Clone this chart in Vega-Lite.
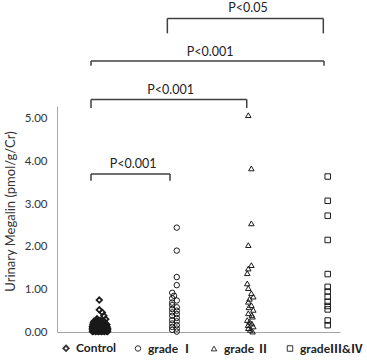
{
  "$schema": "https://vega.github.io/schema/vega-lite/v6.json",
  "autosize": "none",
  "padding": {"left": 57, "top": 106, "right": 27, "bottom": 28},
  "width": 283,
  "height": 226,
  "background": "white",
  "config": {"view": {"stroke": null}, "font": "Lato"},
  "datasets": {
    "pts": [
      {"g": "Control", "x": 0.90, "y": 0.01}, {"g": "Control", "x": 0.94, "y": 0.01}, {"g": "Control", "x": 0.98, "y": 0.01}, {"g": "Control", "x": 1.02, "y": 0.01}, {"g": "Control", "x": 1.06, "y": 0.01}, {"g": "Control", "x": 1.10, "y": 0.01},
      {"g": "Control", "x": 0.92, "y": 0.03}, {"g": "Control", "x": 0.96, "y": 0.03}, {"g": "Control", "x": 1.00, "y": 0.03}, {"g": "Control", "x": 1.04, "y": 0.03}, {"g": "Control", "x": 1.08, "y": 0.03},
      {"g": "Control", "x": 0.90, "y": 0.05}, {"g": "Control", "x": 0.94, "y": 0.05}, {"g": "Control", "x": 0.98, "y": 0.05}, {"g": "Control", "x": 1.02, "y": 0.05}, {"g": "Control", "x": 1.06, "y": 0.05}, {"g": "Control", "x": 1.10, "y": 0.05},
      {"g": "Control", "x": 0.92, "y": 0.07}, {"g": "Control", "x": 0.96, "y": 0.07}, {"g": "Control", "x": 1.00, "y": 0.07}, {"g": "Control", "x": 1.04, "y": 0.07}, {"g": "Control", "x": 1.08, "y": 0.07},
      {"g": "Control", "x": 0.90, "y": 0.09}, {"g": "Control", "x": 0.95, "y": 0.09}, {"g": "Control", "x": 1.00, "y": 0.09}, {"g": "Control", "x": 1.05, "y": 0.09}, {"g": "Control", "x": 1.10, "y": 0.09},
      {"g": "Control", "x": 0.92, "y": 0.11}, {"g": "Control", "x": 0.97, "y": 0.11}, {"g": "Control", "x": 1.02, "y": 0.11}, {"g": "Control", "x": 1.07, "y": 0.11},
      {"g": "Control", "x": 0.90, "y": 0.13}, {"g": "Control", "x": 0.94, "y": 0.13}, {"g": "Control", "x": 0.99, "y": 0.13}, {"g": "Control", "x": 1.04, "y": 0.13}, {"g": "Control", "x": 1.09, "y": 0.13},
      {"g": "Control", "x": 0.92, "y": 0.15}, {"g": "Control", "x": 0.97, "y": 0.15}, {"g": "Control", "x": 1.02, "y": 0.15}, {"g": "Control", "x": 1.07, "y": 0.15},
      {"g": "Control", "x": 0.91, "y": 0.17}, {"g": "Control", "x": 0.95, "y": 0.17}, {"g": "Control", "x": 1.00, "y": 0.17}, {"g": "Control", "x": 1.05, "y": 0.17}, {"g": "Control", "x": 1.09, "y": 0.17},
      {"g": "Control", "x": 0.93, "y": 0.19}, {"g": "Control", "x": 0.98, "y": 0.19}, {"g": "Control", "x": 1.03, "y": 0.19}, {"g": "Control", "x": 1.08, "y": 0.19},
      {"g": "Control", "x": 0.91, "y": 0.21}, {"g": "Control", "x": 0.96, "y": 0.21}, {"g": "Control", "x": 1.01, "y": 0.21}, {"g": "Control", "x": 1.06, "y": 0.21},
      {"g": "Control", "x": 0.93, "y": 0.23}, {"g": "Control", "x": 0.98, "y": 0.23}, {"g": "Control", "x": 1.03, "y": 0.23},
      {"g": "Control", "x": 0.92, "y": 0.25}, {"g": "Control", "x": 0.97, "y": 0.25}, {"g": "Control", "x": 1.02, "y": 0.25},
      {"g": "Control", "x": 0.95, "y": 0.27}, {"g": "Control", "x": 1.00, "y": 0.27},
      {"g": "Control", "x": 0.91, "y": 0.02}, {"g": "Control", "x": 0.96, "y": 0.02}, {"g": "Control", "x": 1.00, "y": 0.02}, {"g": "Control", "x": 1.04, "y": 0.02}, {"g": "Control", "x": 1.09, "y": 0.02},
      {"g": "Control", "x": 0.93, "y": 0.06}, {"g": "Control", "x": 0.97, "y": 0.06}, {"g": "Control", "x": 1.01, "y": 0.06}, {"g": "Control", "x": 1.05, "y": 0.06}, {"g": "Control", "x": 1.09, "y": 0.06},
      {"g": "Control", "x": 0.91, "y": 0.10}, {"g": "Control", "x": 0.96, "y": 0.10}, {"g": "Control", "x": 1.00, "y": 0.10}, {"g": "Control", "x": 1.04, "y": 0.10}, {"g": "Control", "x": 1.08, "y": 0.10},
      {"g": "Control", "x": 0.93, "y": 0.14}, {"g": "Control", "x": 0.97, "y": 0.14}, {"g": "Control", "x": 1.01, "y": 0.14}, {"g": "Control", "x": 1.06, "y": 0.14},
      {"g": "Control", "x": 0.91, "y": 0.18}, {"g": "Control", "x": 0.96, "y": 0.18}, {"g": "Control", "x": 1.01, "y": 0.18}, {"g": "Control", "x": 1.06, "y": 0.18},
      {"g": "Control", "x": 0.94, "y": 0.22}, {"g": "Control", "x": 0.99, "y": 0.22}, {"g": "Control", "x": 1.04, "y": 0.22},
      {"g": "Control", "x": 0.96, "y": 0.26}, {"g": "Control", "x": 1.01, "y": 0.26}, {"g": "Control", "x": 1.05, "y": 0.26},
      {"g": "Control", "x": 0.99, "y": 0.75}, {"g": "Control", "x": 0.99, "y": 0.52}, {"g": "Control", "x": 1.03, "y": 0.46}, {"g": "Control", "x": 1.05, "y": 0.38}, {"g": "Control", "x": 1.075, "y": 0.30}, {"g": "Control", "x": 0.96, "y": 0.31},
      {"g": "grade Ⅰ", "x": 2.011, "y": 2.45}, {"g": "grade Ⅰ", "x": 2.011, "y": 1.91}, {"g": "grade Ⅰ", "x": 2.011, "y": 1.29}, {"g": "grade Ⅰ", "x": 2.011, "y": 1.10},
      {"g": "grade Ⅰ", "x": 1.951, "y": 0.92}, {"g": "grade Ⅰ", "x": 1.975, "y": 0.85}, {"g": "grade Ⅰ", "x": 1.951, "y": 0.79}, {"g": "grade Ⅰ", "x": 2.011, "y": 0.74},
      {"g": "grade Ⅰ", "x": 1.951, "y": 0.69}, {"g": "grade Ⅰ", "x": 1.951, "y": 0.63}, {"g": "grade Ⅰ", "x": 2.011, "y": 0.58}, {"g": "grade Ⅰ", "x": 1.951, "y": 0.54},
      {"g": "grade Ⅰ", "x": 2.011, "y": 0.50}, {"g": "grade Ⅰ", "x": 1.951, "y": 0.46}, {"g": "grade Ⅰ", "x": 2.011, "y": 0.42}, {"g": "grade Ⅰ", "x": 1.951, "y": 0.38},
      {"g": "grade Ⅰ", "x": 2.011, "y": 0.33}, {"g": "grade Ⅰ", "x": 1.951, "y": 0.28}, {"g": "grade Ⅰ", "x": 2.011, "y": 0.25}, {"g": "grade Ⅰ", "x": 1.951, "y": 0.20},
      {"g": "grade Ⅰ", "x": 2.011, "y": 0.16}, {"g": "grade Ⅰ", "x": 1.951, "y": 0.12}, {"g": "grade Ⅰ", "x": 2.011, "y": 0.08}, {"g": "grade Ⅰ", "x": 1.951, "y": 0.05}, {"g": "grade Ⅰ", "x": 2.011, "y": 0.01},
      {"g": "grade Ⅱ", "x": 2.954, "y": 5.09}, {"g": "grade Ⅱ", "x": 2.994, "y": 3.84}, {"g": "grade Ⅱ", "x": 2.994, "y": 2.55}, {"g": "grade Ⅱ", "x": 2.954, "y": 2.04},
      {"g": "grade Ⅱ", "x": 2.994, "y": 1.57}, {"g": "grade Ⅱ", "x": 2.954, "y": 1.49}, {"g": "grade Ⅱ", "x": 2.94, "y": 1.38}, {"g": "grade Ⅱ", "x": 2.94, "y": 1.14},
      {"g": "grade Ⅱ", "x": 2.954, "y": 1.03}, {"g": "grade Ⅱ", "x": 2.994, "y": 0.91}, {"g": "grade Ⅱ", "x": 3.02, "y": 0.83}, {"g": "grade Ⅱ", "x": 2.97, "y": 0.78},
      {"g": "grade Ⅱ", "x": 2.954, "y": 0.71}, {"g": "grade Ⅱ", "x": 2.994, "y": 0.63}, {"g": "grade Ⅱ", "x": 2.96, "y": 0.58}, {"g": "grade Ⅱ", "x": 3.02, "y": 0.52},
      {"g": "grade Ⅱ", "x": 2.954, "y": 0.44}, {"g": "grade Ⅱ", "x": 3.0, "y": 0.40}, {"g": "grade Ⅱ", "x": 3.01, "y": 0.36}, {"g": "grade Ⅱ", "x": 2.94, "y": 0.28},
      {"g": "grade Ⅱ", "x": 2.97, "y": 0.24}, {"g": "grade Ⅱ", "x": 3.0, "y": 0.20}, {"g": "grade Ⅱ", "x": 2.95, "y": 0.16}, {"g": "grade Ⅱ", "x": 3.02, "y": 0.13},
      {"g": "grade Ⅱ", "x": 2.954, "y": 0.09}, {"g": "grade Ⅱ", "x": 2.98, "y": 0.05}, {"g": "grade Ⅱ", "x": 3.01, "y": 0.01},
      {"g": "gradeⅢ&Ⅳ", "x": 4.0, "y": 3.65}, {"g": "gradeⅢ&Ⅳ", "x": 4.0, "y": 3.08}, {"g": "gradeⅢ&Ⅳ", "x": 4.0, "y": 2.73}, {"g": "gradeⅢ&Ⅳ", "x": 4.0, "y": 2.16},
      {"g": "gradeⅢ&Ⅳ", "x": 4.0, "y": 1.36}, {"g": "gradeⅢ&Ⅳ", "x": 4.0, "y": 1.06}, {"g": "gradeⅢ&Ⅳ", "x": 4.0, "y": 0.95}, {"g": "gradeⅢ&Ⅳ", "x": 4.0, "y": 0.83},
      {"g": "gradeⅢ&Ⅳ", "x": 4.0, "y": 0.71}, {"g": "gradeⅢ&Ⅳ", "x": 4.0, "y": 0.61}, {"g": "gradeⅢ&Ⅳ", "x": 4.0, "y": 0.53}, {"g": "gradeⅢ&Ⅳ", "x": 4.0, "y": 0.27},
      {"g": "gradeⅢ&Ⅳ", "x": 4.0, "y": 0.16}
    ],
    "br": [
      {"label": "P<0.001", "x1": 0.881, "x2": 1.922, "y": 3.71, "yl": 3.55, "xt": 1.435, "yt": 3.94},
      {"label": "P<0.001", "x1": 0.881, "x2": 2.933, "y": 5.46, "yl": 5.26, "xt": 1.93, "yt": 5.68},
      {"label": "P<0.001", "x1": 0.881, "x2": 3.951, "y": 6.36, "yl": 6.25, "xt": 2.45, "yt": 6.57},
      {"label": "P<0.05", "x1": 1.887, "x2": 3.942, "y": 7.36, "yl": 7.01, "xt": 2.95, "yt": 7.60}
    ]
  },
  "layer": [
    {
      "data": {"name": "pts"},
      "mark": {"type": "point", "filled": false, "size": 30, "color": "#1a1a1a", "opacity": 1},
      "encoding": {
        "x": {"field": "x", "type": "quantitative", "scale": {"domain": [0.433, 4.162], "nice": false, "zero": false},
              "axis": {"title": null, "labels": false, "ticks": false, "grid": false, "domainColor": "#a6a6a6", "domainWidth": 1}},
        "y": {"field": "y", "type": "quantitative", "scale": {"domain": [0, 5.305], "nice": false, "zero": false},
              "axis": {"title": "Urinary Megalin (pmol/g/Cr)", "values": [0, 1, 2, 3, 4, 5], "format": ".2f", "ticks": false, "grid": false,
                       "domainColor": "#a6a6a6", "domainWidth": 1, "labelPadding": 10, "labelFont": "Lato", "labelFontSize": 11.5, "labelColor": "#333",
                       "titleFont": "Lato", "titleFontSize": 13, "titleFontWeight": "normal", "titleColor": "#333", "titleX": -40, "titleY": 105}},
        "strokeWidth": {"field": "g", "type": "nominal",
                        "scale": {"type": "ordinal", "domain": ["Control", "grade Ⅰ", "grade Ⅱ", "gradeⅢ&Ⅳ"], "range": [1.8, 1, 1, 1]}, "legend": null},
        "shape": {"field": "g", "type": "nominal",
                  "scale": {"domain": ["Control", "grade Ⅰ", "grade Ⅱ", "gradeⅢ&Ⅳ"], "range": ["diamond", "circle", "triangle-up", "square"]},
                  "legend": {"title": null, "orient": "none", "direction": "horizontal", "legendX": 3, "legendY": 236, "padding": 0,
                             "columnPadding": 15, "labelFont": "Lato, Noto Sans CJK JP", "labelFontSize": 12, "labelFontWeight": "bold", "labelColor": "#222",
                             "symbolSize": 30, "symbolStrokeWidth": 1, "symbolStrokeColor": "#333", "symbolFillColor": "white", "labelOffset": 4,
                             "encode": {"symbols": {"update": {"strokeWidth": {"value": 1}}}}}}
      }
    },
    {
      "data": {"name": "br"},
      "mark": {"type": "rule", "color": "#404040", "strokeWidth": 1.5},
      "encoding": {
        "x": {"field": "x1", "type": "quantitative", "scale": {"domain": [0.433, 4.162], "nice": false, "zero": false}, "title": null},
        "x2": {"field": "x2"},
        "y": {"field": "y", "type": "quantitative", "scale": {"domain": [0, 5.305], "nice": false, "zero": false}, "title": "Urinary Megalin (pmol/g/Cr)"}
      }
    },
    {
      "data": {"name": "br"},
      "mark": {"type": "rule", "color": "#404040", "strokeWidth": 1.5},
      "encoding": {
        "x": {"field": "x1", "type": "quantitative", "scale": {"domain": [0.433, 4.162], "nice": false, "zero": false}, "title": null},
        "y": {"field": "yl", "type": "quantitative", "scale": {"domain": [0, 5.305], "nice": false, "zero": false}, "title": "Urinary Megalin (pmol/g/Cr)"},
        "y2": {"field": "y"}
      }
    },
    {
      "data": {"name": "br"},
      "mark": {"type": "rule", "color": "#404040", "strokeWidth": 1.5},
      "encoding": {
        "x": {"field": "x2", "type": "quantitative", "scale": {"domain": [0.433, 4.162], "nice": false, "zero": false}, "title": null},
        "y": {"field": "yl", "type": "quantitative", "scale": {"domain": [0, 5.305], "nice": false, "zero": false}, "title": "Urinary Megalin (pmol/g/Cr)"},
        "y2": {"field": "y"}
      }
    },
    {
      "data": {"name": "br"},
      "mark": {"type": "text", "font": "Lato", "fontSize": 12.5, "color": "#222", "align": "center", "baseline": "middle"},
      "encoding": {
        "x": {"field": "xt", "type": "quantitative", "scale": {"domain": [0.433, 4.162], "nice": false, "zero": false}, "title": null},
        "y": {"field": "yt", "type": "quantitative", "scale": {"domain": [0, 5.305], "nice": false, "zero": false}, "title": "Urinary Megalin (pmol/g/Cr)"},
        "text": {"field": "label"}
      }
    }
  ]
}
